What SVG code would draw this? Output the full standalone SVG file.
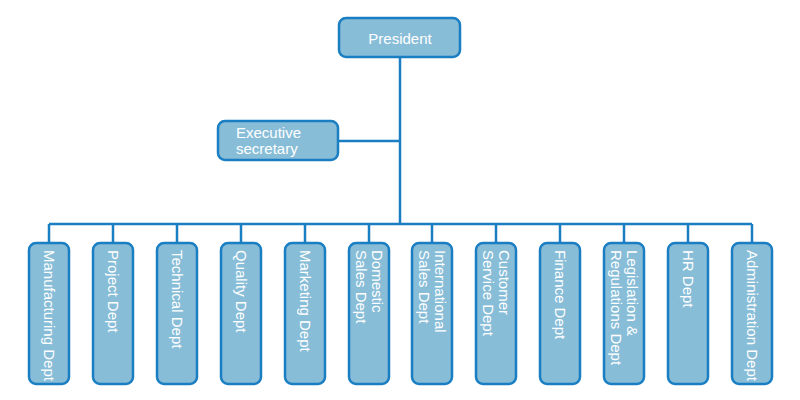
<svg xmlns="http://www.w3.org/2000/svg" width="800" height="400" viewBox="0 0 800 400">
<style>
.b{fill:#88bdd8;stroke:#1a7ec2;stroke-width:2.5}
.t{fill:#fff;font-family:"Liberation Sans",Arial,sans-serif;font-size:15px}
.c{fill:none;stroke:#1a7ec2;stroke-width:2.5}
</style>
<rect width="800" height="400" fill="#fff"/>
<g id="connectors" class="c">
<path d="M400 57V224M338 141H400M49 224H752"/>
<path d="M49 224V243M113 224V243M177 224V243M241 224V243M305 224V243M369 224V243M432 224V243M496 224V243M560 224V243M624 224V243M688 224V243M752 224V243"/>
</g>
<g id="president"><rect class="b" x="339" y="18" width="121" height="39" rx="7"/><text class="t" x="400" y="44" text-anchor="middle" font-size="17">President</text></g>
<g id="exec"><rect class="b" x="218" y="121" width="120" height="39" rx="7"/><text class="t" x="236" y="138" font-size="16">Executive</text><text class="t" x="236" y="154" font-size="16">secretary</text></g>
<g id="d1"><rect class="b" x="29" y="243" width="40" height="141" rx="7"/><text class="t" transform="translate(49,250) rotate(90)" y="5">Manufacturing Dept</text></g>
<g id="d2"><rect class="b" x="93" y="243" width="40" height="141" rx="7"/><text class="t" transform="translate(113,250) rotate(90)" y="5">Project  Dept</text></g>
<g id="d3"><rect class="b" x="157" y="243" width="40" height="141" rx="7"/><text class="t" transform="translate(177,250) rotate(90)" y="5">Technical  Dept</text></g>
<g id="d4"><rect class="b" x="221" y="243" width="40" height="141" rx="7"/><text class="t" transform="translate(241,250) rotate(90)" y="5">Quality  Dept</text></g>
<g id="d5"><rect class="b" x="285" y="243" width="40" height="141" rx="7"/><text class="t" transform="translate(305,250) rotate(90)" y="5">Marketing  Dept</text></g>
<g id="d6"><rect class="b" x="349" y="243" width="40" height="141" rx="7"/><text class="t" transform="translate(369,250) rotate(90)"><tspan x="0" y="-3">Domestic</tspan><tspan x="0" y="13">Sales Dept</tspan></text></g>
<g id="d7"><rect class="b" x="412" y="243" width="40" height="141" rx="7"/><text class="t" transform="translate(432,250) rotate(90)"><tspan x="0" y="-3">International</tspan><tspan x="0" y="13">Sales Dept</tspan></text></g>
<g id="d8"><rect class="b" x="476" y="243" width="40" height="141" rx="7"/><text class="t" transform="translate(496,250) rotate(90)"><tspan x="0" y="-3">Customer</tspan><tspan x="0" y="13">Service  Dept</tspan></text></g>
<g id="d9"><rect class="b" x="540" y="243" width="40" height="141" rx="7"/><text class="t" transform="translate(560,250) rotate(90)" y="5">Finance  Dept</text></g>
<g id="d10"><rect class="b" x="604" y="243" width="40" height="141" rx="7"/><text class="t" transform="translate(624,250) rotate(90)"><tspan x="0" y="-3">Legislation &amp;</tspan><tspan x="0" y="13">Regulations  Dept</tspan></text></g>
<g id="d11"><rect class="b" x="668" y="243" width="40" height="141" rx="7"/><text class="t" transform="translate(688,250) rotate(90)" y="5">HR  Dept</text></g>
<g id="d12"><rect class="b" x="732" y="243" width="40" height="141" rx="7"/><text class="t" transform="translate(752,250) rotate(90)" y="5">Administration Dept</text></g>
</svg>
